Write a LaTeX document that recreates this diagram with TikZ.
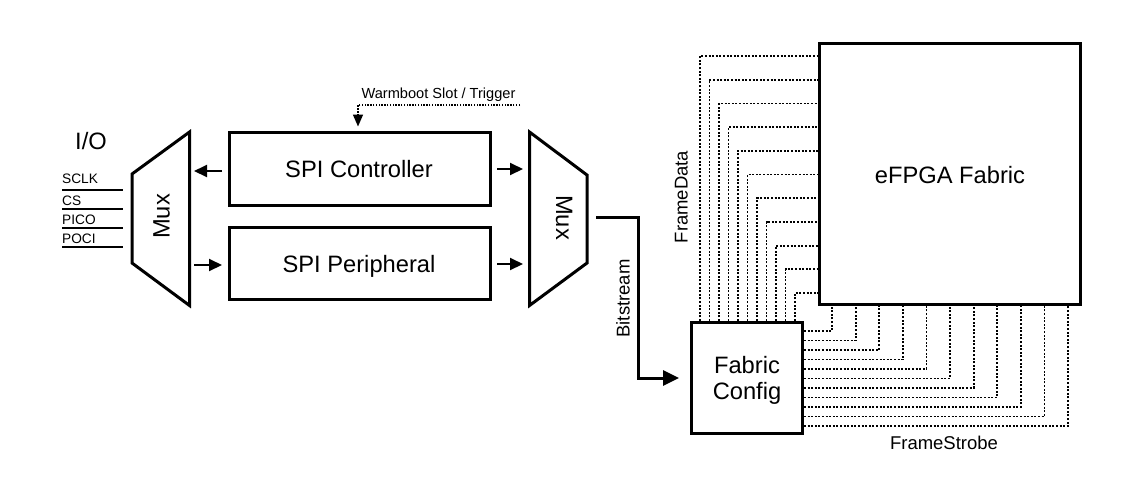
\documentclass[tikz,border=0pt]{standalone}
\usepackage{fontspec}
\setmainfont{Liberation Sans}
\usetikzlibrary{arrows.meta,calc}
\begin{document}
\begin{tikzpicture}[x=1pt,y=-1pt,
  box/.style={draw, line width=3pt, inner sep=0pt},
  big/.style={font=\fontsize{23.7}{26}\selectfont, inner sep=0pt},
  mid/.style={font=\fontsize{18.5}{21}\selectfont, inner sep=0pt},
  wb/.style={font=\fontsize{14.6}{17}\selectfont, inner sep=0pt},
  small/.style={font=\fontsize{13.7}{16}\selectfont, inner sep=0pt},
  arr/.style={line width=2pt, -{Triangle[length=13pt,width=12pt]}},
  dotline/.style={line width=1.8pt, dash pattern=on 2pt off 1.6pt},
  wbline/.style={line width=1.5pt, dash pattern=on 1.5pt off 1.3pt, -{Triangle[length=12pt,width=10pt]}},
  muxline/.style={line width=3pt, line join=miter},
  sig/.style={line width=2pt}]
\useasboundingbox (0,0) rectangle (1123,491);

% boxes
\node[box, minimum width=261pt, minimum height=73pt] (ctrl) at (360,169) {};
\node[box, minimum width=261pt, minimum height=72pt] (peri) at (360,263.5) {};
\node[box, minimum width=261pt, minimum height=261pt] (fabric) at (950,174) {};
\node[box, minimum width=111pt, minimum height=111pt] (config) at (747,378) {};

\node[big, anchor=base] (ctrltxt) at (359,177.5) {SPI Controller};
\node[big, anchor=base] (peritxt) at (359,272.5) {SPI Peripheral};
\node[big, anchor=base] (fabtxt) at (950,183.5) {eFPGA Fabric};
\node[big, anchor=base] (cfg1) at (747,373) {Fabric};
\node[big, anchor=base] (cfg2) at (747,399) {Config};

% muxes
\draw[muxline] (132,174) -- (189.5,132) -- (189.5,305.5) -- (132,263) -- cycle;
\draw[muxline] (529.5,132) -- (587,175) -- (587,263) -- (529.5,305.5) -- cycle;
\node[big, rotate=90, anchor=base] (lmuxtxt) at (169.5,216.5) {Mux};
\node[big, rotate=-90, anchor=base] (rmuxtxt) at (556,217.5) {Mux};

\coordinate (lmA) at (194,171);
\coordinate (lmB) at (194,265);
\coordinate (rmA) at (523,169);
\coordinate (rmB) at (523,264);
\coordinate (rmOut) at (596,217);

% arrows between SPI blocks and muxes
\draw[arr] ([shift={(-6,2)}]ctrl.west) -- (lmA);
\draw[arr] (lmB) -- ([shift={(-6,1.5)}]peri.west);
\draw[arr] ([xshift=5pt]ctrl.east) -- (rmA);
\draw[arr] ([shift={(5,0.5)}]peri.east) -- (rmB);

% I/O
\node[big, anchor=base] (io) at (91,149.5) {I/O};
\node[small, anchor=west] (sclk) at (62,178.5) {SCLK};
\node[small, anchor=west] (cs) at (62,200.5) {CS};
\node[small, anchor=west] (pico) at (62,220) {PICO};
\node[small, anchor=west] (poci) at (62,238.5) {POCI};
\draw[sig] (62,190) -- (123,190);
\draw[sig] (62,209) -- (123,209);
\draw[sig] (62,228) -- (123,228);
\draw[sig] (62,247) -- (123,247);

% warmboot
\node[wb] (wbtxt) at (438.5,95) {Warmboot Slot / Trigger};
\coordinate (wbend) at (520,105);
\draw[wbline] (wbend) -| ([shift={(-2,-4.5)}]ctrl.north);

% bitstream
\draw[line width=3pt, -{Triangle[length=16pt,width=15pt]}] (rmOut) -- (638,217) |- ([xshift=-11pt]config.west);
\node[mid, rotate=90, anchor=base] (bits) at (629.5,298.5) {Bitstream};

% FrameData
\foreach \i in {0,...,10} {
  \pgfmathsetmacro\xx{700+9.5*\i}
  \pgfmathsetmacro\yy{56+23.7*\i}
  \draw[dotline] (\xx,0 |- config.north) -- (\xx,\yy) -- (fabric.west |- 0,\yy);
}
\node[mid, rotate=90, anchor=base] (fdata) at (687.5,197) {FrameData};

% FrameStrobe
\foreach \i in {0,...,10} {
  \pgfmathsetmacro\xs{832+23.6*\i}
  \pgfmathsetmacro\ys{331+9.5*\i}
  \draw[dotline] (config.east |- 0,\ys) -- (\xs,\ys) -- (\xs,0 |- fabric.south);
}
\node[mid, anchor=base] (fstrobe) at (944,449) {FrameStrobe};
\end{tikzpicture}
\end{document}
